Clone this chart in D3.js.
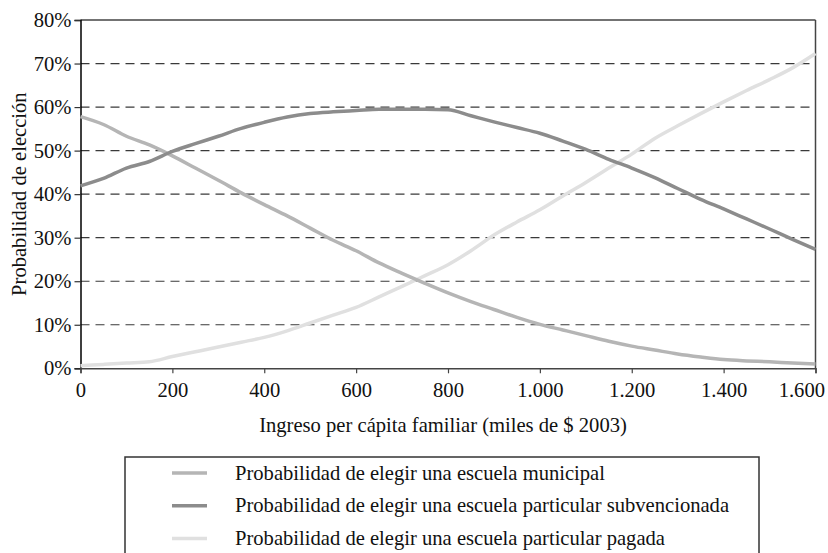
<!DOCTYPE html>
<html><head><meta charset="utf-8">
<script src="https://cdn.jsdelivr.net/npm/d3@7"></script>
<style>body{margin:0;background:#fff}svg{display:block}text{font-family:"Liberation Serif","Times New Roman",serif}</style>
</head><body>
<svg id="c" width="828" height="553"></svg>
<script>
const income = [0,50,100,150,200,250,300,350,400,450,500,550,600,650,700,750,800,850,900,950,1000,1050,1100,1150,1200,1250,1300,1350,1400,1450,1500,1550,1600];
const municipal = [57.8,56.0,53.3,51.3,48.8,46.0,43.2,40.3,37.6,35.0,32.2,29.4,27.0,24.2,21.8,19.5,17.3,15.3,13.5,11.7,10.1,8.8,7.5,6.2,5.1,4.2,3.3,2.6,2.0,1.7,1.5,1.2,1.0];
const subvencionada = [41.9,43.6,46.0,47.5,49.8,51.6,53.3,55.1,56.5,57.7,58.5,58.9,59.2,59.5,59.5,59.5,59.4,58.0,56.6,55.3,54.0,52.2,50.3,48.0,46.0,43.8,41.3,38.8,36.6,34.3,32.0,29.6,27.3];
const pagada = [0.6,0.9,1.2,1.5,2.7,3.8,4.9,6.0,7.1,8.6,10.4,12.2,14.0,16.4,18.8,21.3,23.8,27.0,30.6,33.6,36.4,39.6,42.7,46.0,49.2,52.8,55.7,58.5,61.2,63.8,66.3,69.0,72.3];
const seriesNames = ["Probabilidad de elegir una escuela municipal","Probabilidad de elegir una escuela particular subvencionada","Probabilidad de elegir una escuela particular pagada"];
const seriesColors = ["#b5b5b5","#8c8c8c","#e0e0e0"];
const xTicks = [0,200,400,600,800,1000,1200,1400,1600];
const xTickLabels = ["0","200","400","600","800","1.000","1.200","1.400","1.600"];
const yTicks = [0,10,20,30,40,50,60,70,80];
const yTickLabels = ["0%","10%","20%","30%","40%","50%","60%","70%","80%"];
const xTitle = "Ingreso per cápita familiar (miles de $ 2003)";
const yTitle = "Probabilidad de elección";

const FS = 20.6;
const svg = d3.select("#c");
const L=80.5, R=815.5, T=20, B=368.3;
const x = d3.scaleLinear().domain([0,1600]).range([L,R]);
const y = d3.scaleLinear().domain([0,80]).range([B,T]);

// gridlines
svg.append("g").selectAll("line").data(yTicks.filter(d=>d>0&&d<80)).join("line")
  .attr("x1",L).attr("x2",R-4).attr("y1",d=>y(d)).attr("y2",d=>y(d))
  .attr("stroke","#3a3a3a").attr("stroke-width",1.2).attr("stroke-dasharray","9,6");

// frame: top & right
svg.append("line").attr("x1",L).attr("x2",R).attr("y1",T).attr("y2",T).attr("stroke","#444").attr("stroke-width",1.5);
svg.append("line").attr("x1",R).attr("x2",R).attr("y1",T).attr("y2",B).attr("stroke","#444").attr("stroke-width",1.5);

// axes
const yAxis = d3.axisLeft(y).tickValues(yTicks).tickFormat((d,i)=>yTickLabels[i]).tickSize(6).tickPadding(3);
const gy = svg.append("g").attr("transform",`translate(${L},0)`).call(yAxis);
gy.select(".domain").attr("stroke","#000").attr("stroke-width",1.5);
gy.selectAll(".tick line").attr("stroke","#333").attr("stroke-width",1.2);
gy.selectAll("text").attr("font-size",FS).attr("fill","#111").attr("font-family","Liberation Serif");

const xAxis = d3.axisBottom(x).tickValues(xTicks).tickFormat((d,i)=>xTickLabels[i]).tickSize(5).tickPadding(9);
const gx = svg.append("g").attr("transform",`translate(0,${B})`).call(xAxis);
gx.select(".domain").attr("stroke","#444").attr("stroke-width",1.5);
gx.selectAll(".tick line").attr("stroke","#444").attr("stroke-width",1.2);
gx.selectAll("text").attr("font-size",FS).attr("fill","#111").attr("font-family","Liberation Serif");
// last label kept inside the picture, as in the reference
gx.selectAll(".tick").filter(d=>d===1600).select("text").attr("text-anchor","end").attr("x",9);

// lines
const allSeries = [municipal, subvencionada, pagada];
const line = d3.line().x((d,i)=>x(income[i])).y(d=>y(d)).curve(d3.curveMonotoneX);
const drawOrder = [2,0,1];
drawOrder.forEach(k=>{
  svg.append("path").datum(allSeries[k]).attr("d",line).attr("fill","none")
    .attr("stroke",seriesColors[k]).attr("stroke-width",3.5).attr("stroke-linejoin","round");
});

// titles
svg.append("text").attr("x",443).attr("y",432).attr("text-anchor","middle").attr("font-size",FS).attr("fill","#111").text(xTitle);
svg.append("text").attr("transform",`translate(26,${(T+B)/2}) rotate(-90)`).attr("text-anchor","middle").attr("font-size",FS).attr("fill","#111").text(yTitle);

// legend
const lg = svg.append("g");
lg.append("rect").attr("x",125).attr("y",457).attr("width",634).attr("height",120).attr("fill","none").attr("stroke","#333").attr("stroke-width",1.5);
seriesNames.forEach((n,i)=>{
  const yy = 473 + i*32.7;
  lg.append("line").attr("x1",172).attr("x2",207).attr("y1",yy).attr("y2",yy).attr("stroke",seriesColors[i]).attr("stroke-width",3.5);
  lg.append("text").attr("x",235).attr("y",yy).attr("dy","0.33em").attr("font-size",FS).attr("fill","#111").text(n);
});
</script>
</body></html>
